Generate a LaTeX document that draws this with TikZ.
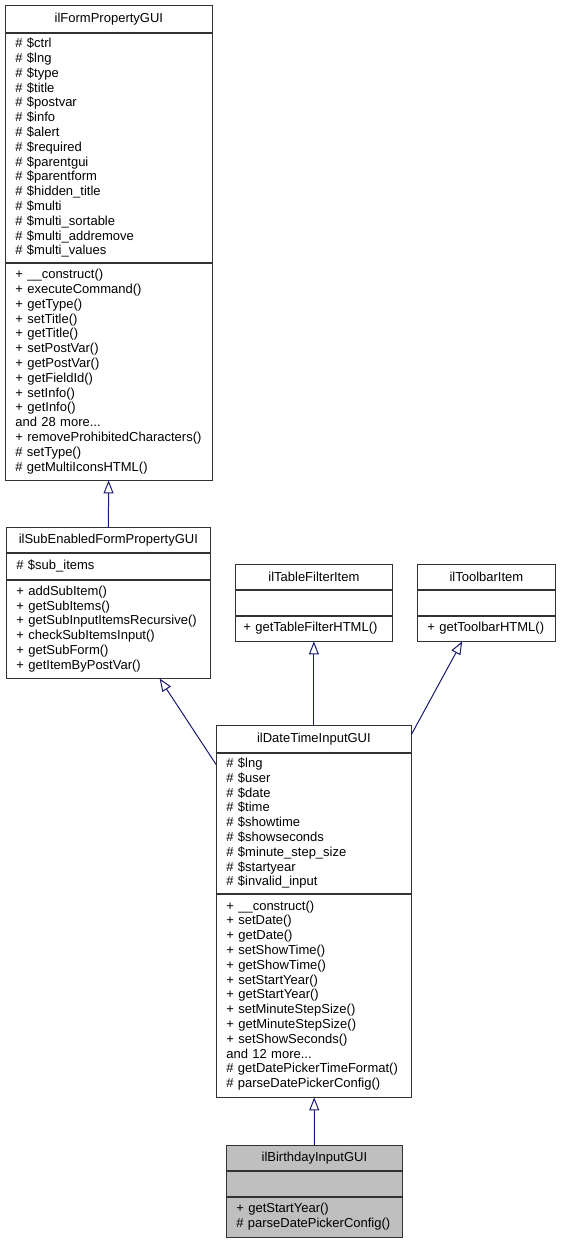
\documentclass[tikz,border=0pt]{standalone}
\usepackage{fontspec}
\setmainfont{Liberation Sans}
\usetikzlibrary{arrows.meta,positioning}
\definecolor{edgeblue}{RGB}{25,25,112}
\definecolor{boxline}{RGB}{50,50,50}
\definecolor{focusgray}{RGB}{191,191,191}

\begin{document}
\begin{tikzpicture}[x=1pt,y=-1pt,
		every node/.style={font=\fontsize{13}{14.8}\selectfont},
		cls/.style={draw=boxline, line width=0.8pt, inner sep=0pt, align=center, minimum width=#1},
		members/.style={draw=boxline, line width=0.8pt, inner ysep=0pt, inner xsep=10pt, align=left, text width=#1},
		inherit/.style={draw=edgeblue, line width=1pt, -{Triangle[open,length=13pt,width=10pt]}},
	]
	\useasboundingbox (0,0) rectangle (561,1241);

	\node[cls=207pt, minimum height=27pt, anchor=north west] (fpg) at (5,5) {ilFormPropertyGUI};
	\node[members=187pt, minimum height=229pt, below=0pt of fpg] (fpgattr) {\#~\$ctrl\\\#~\$lng\\\#~\$type\\\#~\$title\\\#~\$postvar\\\#~\$info\\\#~\$alert\\\#~\$required\\\#~\$parentgui\\\#~\$parentform\\\#~\$hidden\_title\\\#~\$multi\\\#~\$multi\_sortable\\\#~\$multi\_addremove\\\#~\$multi\_values};
	\node[members=187pt, minimum height=217pt, below=0pt of fpgattr] (fpgops) {+~\_\_construct()\\+~executeCommand()\\+~getType()\\+~setTitle()\\+~getTitle()\\+~setPostVar()\\+~getPostVar()\\+~getFieldId()\\+~setInfo()\\+~getInfo()\\and 28 more...\\+~removeProhibitedCharacters()\\\#~setType()\\\#~getMultiIconsHTML()};

	\node[cls=204pt, minimum height=25pt, anchor=north west] (sub) at (6,527) {ilSubEnabledFormPropertyGUI};
	\node[members=184pt, minimum height=26pt, below=0pt of sub] (subattr) {\#~\$sub\_items};
	\node[members=184pt, minimum height=98pt, below=0pt of subattr] (subops) {+~addSubItem()\\+~getSubItems()\\+~getSubInputItemsRecursive()\\+~checkSubItemsInput()\\+~getSubForm()\\+~getItemByPostVar()};

	\node[cls=157pt, minimum height=25pt, anchor=north west] (tfi) at (235,564) {ilTableFilterItem};
	\node[members=141pt, inner xsep=8pt, minimum height=25pt, below=0pt of tfi] (tfiattr) {};
	\node[members=141pt, inner xsep=8pt, minimum height=25pt, below=0pt of tfiattr] (tfiops) {+~getTableFilterHTML()};

	\node[cls=138pt, minimum height=25pt, anchor=north west] (tbi) at (417,564) {ilToolbarItem};
	\node[members=118pt, minimum height=25pt, below=0pt of tbi] (tbiattr) {};
	\node[members=118pt, minimum height=25pt, below=0pt of tbiattr] (tbiops) {+~getToolbarHTML()};

	\node[cls=195pt, minimum height=27pt, anchor=north west] (dt) at (216,725) {ilDateTimeInputGUI};
	\node[members=175pt, minimum height=140pt, below=0pt of dt] (dtattr) {\#~\$lng\\\#~\$user\\\#~\$date\\\#~\$time\\\#~\$showtime\\\#~\$showseconds\\\#~\$minute\_step\_size\\\#~\$startyear\\\#~\$invalid\_input};
	\node[members=175pt, minimum height=203pt, below=0pt of dtattr] (dtops) {+~\_\_construct()\\+~setDate()\\+~getDate()\\+~setShowTime()\\+~getShowTime()\\+~setStartYear()\\+~getStartYear()\\+~setMinuteStepSize()\\+~getMinuteStepSize()\\+~setShowSeconds()\\and 12 more...\\\#~getDatePickerTimeFormat()\\\#~parseDatePickerConfig()};

	\node[cls=176pt, fill=focusgray, minimum height=25pt, anchor=north west] (bday) at (226,1145) {ilBirthdayInputGUI};
	\node[members=156pt, fill=focusgray, minimum height=25pt, below=0pt of bday] (bdayattr) {};
	\node[members=156pt, fill=focusgray, minimum height=40pt, below=0pt of bdayattr] (bdayops) {+~getStartYear()\\\#~parseDatePickerConfig()};

	\begin{scope}[inherit]
		\draw (sub) -- (fpgops);
		\draw (dtattr.149) -- (subops.-44);
		\draw (dt) -- (tfiops);
		\draw (dt.3) -- (tbiops.208);
		\draw (bday) -- (dtops);
	\end{scope}
\end{tikzpicture}
\end{document}
